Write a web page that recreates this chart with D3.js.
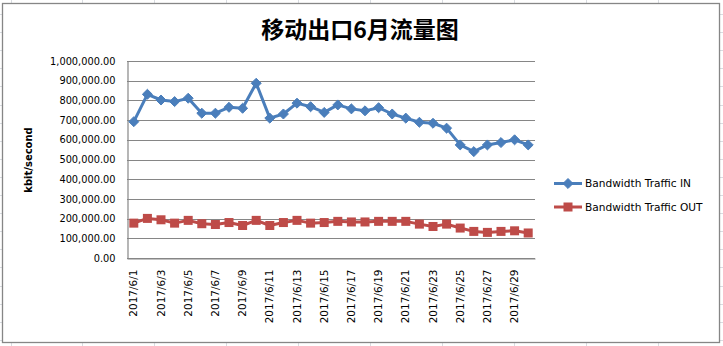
<!DOCTYPE html>
<html>
<head>
<meta charset="utf-8">
<script src="https://cdn.jsdelivr.net/npm/d3@7"></script>
<style>
  html, body { margin: 0; padding: 0; background: #fff; }
  svg { display: block; }
</style>
</head>
<body>
<svg id="chart" width="723" height="346"></svg>
<script>
// Daily bandwidth for June 2017 (kbit/second)
const dates = [
  "2017/6/1", "2017/6/2", "2017/6/3", "2017/6/4", "2017/6/5", "2017/6/6",
  "2017/6/7", "2017/6/8", "2017/6/9", "2017/6/10", "2017/6/11", "2017/6/12",
  "2017/6/13", "2017/6/14", "2017/6/15", "2017/6/16", "2017/6/17", "2017/6/18",
  "2017/6/19", "2017/6/20", "2017/6/21", "2017/6/22", "2017/6/23", "2017/6/24",
  "2017/6/25", "2017/6/26", "2017/6/27", "2017/6/28", "2017/6/29", "2017/6/30"
];
const trafficIn = [
  692000, 831000, 802000, 794000, 811000, 735000, 735000, 765000, 760000, 887000,
  710000, 731000, 786000, 768000, 739000, 777000, 757000, 747000, 763000, 731000,
  710000, 689000, 684000, 659000, 574000, 540000, 574000, 586000, 600000, 574000
];
const trafficOut = [
  177000, 201000, 194000, 177000, 191000, 174000, 170000, 180000, 165000, 191000,
  165000, 180000, 191000, 177000, 180000, 186000, 183000, 183000, 186000, 186000,
  186000, 172000, 160000, 172000, 152000, 135000, 130000, 135000, 138000, 127000
];
const yTickValues = [0, 100000, 200000, 300000, 400000, 500000, 600000, 700000, 800000, 900000, 1000000];
const seriesNames = ["Bandwidth Traffic IN", "Bandwidth Traffic OUT"];
const titleText = "移动出口6月流量图";
const yAxisTitle = "kbit/second";

const W = 723, H = 346;
const svg = d3.select("#chart");

// Worksheet cell grid behind the chart object
const sheet = svg.append("g").attr("stroke", "#d9dce1").attr("stroke-width", 1);
for (let x = 10.5; x < W; x += 71.95) {
  sheet.append("line").attr("x1", Math.round(x) + 0.5).attr("x2", Math.round(x) + 0.5).attr("y1", 0).attr("y2", H);
}
for (let y = 14; y < H; y += 18.1) {
  sheet.append("line").attr("x1", 0).attr("x2", W).attr("y1", Math.round(y) + 0.5).attr("y2", Math.round(y) + 0.5);
}

// Chart area
svg.append("rect")
  .attr("x", 2.5).attr("y", 3.5).attr("width", 717).attr("height", 339)
  .attr("fill", "#fff").attr("stroke", "#868686").attr("stroke-width", 1.3);

const plot = { left: 127, right: 535, top: 61, bottom: 258 };

const x = d3.scaleBand().domain(dates).range([plot.left, plot.right]);
const cx = d => x(d) + x.bandwidth() / 2;
const y = d3.scaleLinear().domain([0, 1000000]).range([plot.bottom, plot.top]);

// Title
svg.append("text")
  .attr("x", 360).attr("y", 38)
  .attr("text-anchor", "middle")
  .attr("font-family", "'Noto Sans CJK SC', sans-serif")
  .attr("font-weight", 600)
  .attr("font-size", 23)
  .attr("fill", "#000")
  .text(titleText);

// Horizontal gridlines
svg.append("g")
  .selectAll("line")
  .data(yTickValues)
  .join("line")
  .attr("x1", plot.left).attr("x2", plot.right)
  .attr("y1", d => Math.round(y(d)) + 0.5).attr("y2", d => Math.round(y(d)) + 0.5)
  .attr("stroke", "#868686").attr("stroke-width", 1.2);

// Y axis
const yAxis = d3.axisLeft(y)
  .tickValues(yTickValues)
  .tickFormat(d3.format(",.2f"))
  .tickSize(0)
  .tickPadding(12);
const gy = svg.append("g")
  .attr("transform", `translate(${plot.left + 0.5},0)`)
  .call(yAxis);
gy.select(".domain").attr("stroke", "#868686").attr("stroke-width", 1.2);
gy.selectAll("text")
  .attr("font-family", "'DejaVu Sans', sans-serif")
  .attr("font-size", 9.8)
  .attr("fill", "#000");

// X axis with every other date labelled
const xAxis = d3.axisBottom(x)
  .tickValues(dates.filter((d, i) => i % 2 === 0))
  .tickSize(0);
const gx = svg.append("g")
  .attr("transform", `translate(0,${plot.bottom + 0.5})`)
  .call(xAxis);
gx.select(".domain").attr("stroke", "#868686").attr("stroke-width", 1.2);
gx.selectAll("text")
  .attr("font-family", "'DejaVu Sans', sans-serif")
  .attr("font-size", 10.5)
  .attr("fill", "#000")
  .attr("text-anchor", "end")
  .attr("transform", "rotate(-90)")
  .attr("x", -11)
  .attr("y", 0)
  .attr("dy", "0.35em");

// Y axis title
svg.append("text")
  .attr("transform", "translate(32,160) rotate(-90)")
  .attr("text-anchor", "middle")
  .attr("font-family", "'DejaVu Sans', sans-serif")
  .attr("font-weight", "bold")
  .attr("font-size", 10)
  .attr("fill", "#000")
  .text(yAxisTitle);

const colors = ["#4a7ebb", "#be4b48"];
const line = d3.line().x((d, i) => cx(dates[i])).y(d => y(d));

// Series lines
[trafficIn, trafficOut].forEach((vals, k) => {
  svg.append("path")
    .datum(vals)
    .attr("d", line)
    .attr("fill", "none")
    .attr("stroke", colors[k])
    .attr("stroke-width", 3)
    .attr("stroke-linejoin", "round");
});

// Markers: diamonds for IN, squares for OUT
const diamond = d3.symbol().type(d3.symbolDiamond2).size(64);
svg.append("g").selectAll("path")
  .data(trafficIn)
  .join("path")
  .attr("transform", (d, i) => `translate(${cx(dates[i])},${y(d)})`)
  .attr("d", diamond)
  .attr("fill", colors[0])
  .attr("stroke", colors[0])
  .attr("stroke-width", 1);

svg.append("g").selectAll("rect")
  .data(trafficOut)
  .join("rect")
  .attr("x", (d, i) => cx(dates[i]) - 4.5)
  .attr("y", d => y(d) - 4.5)
  .attr("width", 9).attr("height", 9)
  .attr("fill", colors[1]);

// Legend
const legend = svg.append("g");
seriesNames.forEach((name, k) => {
  const ly = 183.5 + k * 23.5;
  legend.append("line")
    .attr("x1", 554).attr("x2", 582).attr("y1", ly).attr("y2", ly)
    .attr("stroke", colors[k]).attr("stroke-width", 3);
  if (k === 0) {
    legend.append("path")
      .attr("transform", `translate(568,${ly})`)
      .attr("d", diamond)
      .attr("fill", colors[0]).attr("stroke", colors[0]);
  } else {
    legend.append("rect")
      .attr("x", 568 - 4.5).attr("y", ly - 4.5).attr("width", 9).attr("height", 9)
      .attr("fill", colors[1]);
  }
  legend.append("text")
    .attr("x", 585).attr("y", ly).attr("dy", "0.35em")
    .attr("font-family", "'DejaVu Sans', sans-serif")
    .attr("font-size", 10.6)
    .attr("fill", "#000")
    .text(name);
});
</script>
</body>
</html>
